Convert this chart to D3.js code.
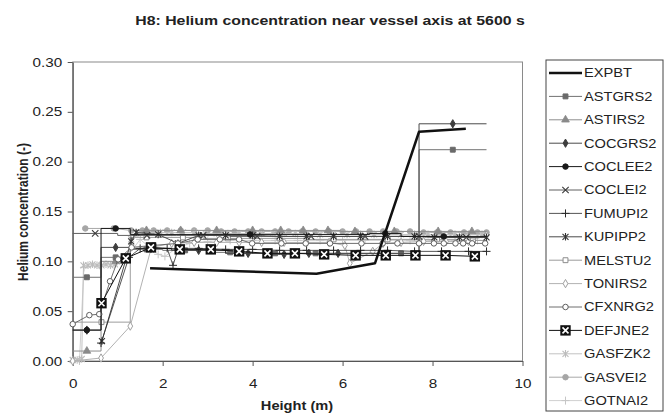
<!DOCTYPE html>
<html>
<head>
<meta charset="utf-8">
<script src="https://cdn.jsdelivr.net/npm/d3@7"></script>
<style>
  body { margin: 0; background: #fff; }
  svg { display: block; }
  text { font-family: "Liberation Sans", Arial, sans-serif; fill: #222; }
</style>
</head>
<body>
<svg id="chart" width="665" height="414"></svg>
<script>
// ---- data: helium concentration (-) against height (m) ----
const xTicks = [0, 2, 4, 6, 8, 10];
const yTicks = [0.00, 0.05, 0.10, 0.15, 0.20, 0.25, 0.30];

const seriesNames = ["EXPBT", "ASTGRS2", "ASTIRS2", "COCGRS2", "COCLEE2", "COCLEI2", "FUMUPI2",
  "KUPIPP2", "MELSTU2", "TONIRS2", "CFXNRG2", "DEFJNE2", "GASFZK2", "GASVEI2", "GOTNAI2"];

// measured profile
const EXPBT = [[1.72, 0.093], [3.70, 0.090], [5.42, 0.0875], [6.72, 0.098], [7.70, 0.230], [8.74, 0.233]];

// lumped-parameter codes: one value per zone, zone edges in m
const ASTGRS2_edges = [0, 0.63, 1.28, 2.0, 3.0, 4.0, 5.0, 5.8, 6.9, 7.7, 9.2];
const ASTGRS2_values = [0.084, 0.104, 0.112, 0.111, 0.109, 0.108, 0.108, 0.108, 0.108, 0.212];

const ASTIRS2_edges = [0, 0.63, 1.28, 2.0, 2.8, 3.6, 4.4, 4.85, 5.4, 5.95, 6.6, 7.7, 8.55, 9.2];
const ASTIRS2_values = [0.010, 0.100, 0.131, 0.131, 0.131, 0.131, 0.131, 0.131, 0.131, 0.130, 0.130, 0.130, 0.130];

const COCGRS2_edges = [0, 0.63, 1.28, 2.2, 3.4, 4.4, 5.0, 5.5, 6.3, 7.7, 9.2];
const COCGRS2_values = [0.031, 0.114, 0.113, 0.111, 0.108, 0.107, 0.108, 0.108, 0.108, 0.238];

const COCLEE2_edges = [0, 0.63, 1.28, 6.6, 7.3, 9.2];
const COCLEE2_values = [0.031, 0.133, 0.127, 0.128, 0.125];

const COCLEI2_edges = [0, 1.0, 2.3, 3.5, 4.7, 5.9, 7.1, 8.3, 9.2];
const COCLEI2_values = [0.128, 0.126, 0.126, 0.125, 0.125, 0.125, 0.125, 0.124];

const MELSTU2_edges = [0, 1.28, 2.0, 2.9, 4.0, 5.2, 6.4, 7.6, 8.6, 9.2];
const MELSTU2_values = [0.039, 0.124, 0.124, 0.123, 0.123, 0.122, 0.122, 0.122, 0.121];

// CFD / distributed codes: [height, concentration]
const FUMUPI2 = [[0.63, 0.018], [1.25, 0.104], [1.5, 0.113], [1.8, 0.113], [2.1, 0.113], [2.23, 0.096],
  [2.35, 0.113], [2.8, 0.113], [3.4, 0.112], [4.0, 0.112], [4.6, 0.111], [5.2, 0.111], [5.8, 0.111],
  [6.4, 0.111], [7.0, 0.111], [7.6, 0.110], [8.2, 0.110], [8.8, 0.110], [9.2, 0.110]];

const KUPIPP2 = [[0.65, 0.020], [1.3, 0.120], [1.41, 0.129], [1.9, 0.127], [2.34, 0.118], [2.8, 0.126],
  [3.4, 0.126], [4.0, 0.126], [4.6, 0.125], [5.2, 0.125], [5.8, 0.125], [6.4, 0.125], [7.0, 0.125],
  [7.6, 0.125], [8.04, 0.124], [8.6, 0.124], [9.2, 0.124]];

const TONIRS2 = [[0, 0.000], [0.63, 0.003], [1.28, 0.035], [1.75, 0.114], [2.2, 0.118], [2.7, 0.119],
  [3.2, 0.119], [3.7, 0.119], [4.2, 0.119], [4.7, 0.119], [5.2, 0.119], [5.7, 0.119], [6.05, 0.116],
  [6.16, 0.098], [6.67, 0.110], [6.9, 0.118], [7.3, 0.119], [7.8, 0.120], [8.3, 0.120], [8.8, 0.120],
  [9.2, 0.126]];

const CFXNRG2 = [[0, 0.037], [0.37, 0.046], [0.59, 0.047], [0.83, 0.080], [1.01, 0.102], [1.31, 0.114],
  [1.8, 0.116], [2.34, 0.118], [2.78, 0.122], [3.27, 0.122], [3.70, 0.122], [3.99, 0.118], [4.64, 0.118],
  [5.18, 0.118], [5.72, 0.118], [6.42, 0.118], [6.89, 0.118], [7.22, 0.118], [7.70, 0.118], [8.03, 0.118],
  [8.25, 0.118], [8.51, 0.118], [8.68, 0.118], [8.88, 0.118], [9.17, 0.118]];

const DEFJNE2 = [[0.64, 0.058], [1.18, 0.103], [1.74, 0.114], [2.38, 0.112], [3.07, 0.112], [3.70, 0.110],
  [4.33, 0.108], [4.94, 0.108], [5.59, 0.107], [6.29, 0.106], [6.96, 0.106], [7.62, 0.106], [8.29, 0.106],
  [8.94, 0.105]];

const GASFZK2 = [[0, 0.001], [0.1, 0.001], [0.2, 0.002], [0.24, 0.096], [0.34, 0.096], [0.44, 0.097],
  [0.54, 0.096], [0.64, 0.096], [0.74, 0.097], [0.84, 0.096], [0.94, 0.097], [1.1, 0.100], [1.2, 0.104],
  [1.3, 0.122], [1.45, 0.128], [1.7, 0.129], [1.95, 0.129], [2.2, 0.129], [2.45, 0.129], [2.7, 0.129],
  [2.95, 0.128], [3.2, 0.128], [3.45, 0.128], [3.7, 0.128], [3.95, 0.128], [4.2, 0.128], [4.45, 0.128],
  [4.7, 0.128], [4.95, 0.128], [5.2, 0.127], [5.5, 0.127], [5.8, 0.127], [6.1, 0.127], [6.4, 0.127],
  [6.7, 0.127], [7.0, 0.127], [7.3, 0.127], [7.6, 0.127], [7.9, 0.127], [8.2, 0.127], [8.5, 0.127],
  [8.8, 0.127], [9.1, 0.127]];

const GASVEI2 = [[0.28, 0.133], [0.91, 0.133], [1.3, 0.131], [1.55, 0.131], [1.8, 0.131], [2.1, 0.131],
  [2.4, 0.131], [2.7, 0.131], [3.0, 0.131], [3.3, 0.130], [3.6, 0.130], [3.9, 0.130], [4.2, 0.130],
  [4.5, 0.130], [4.8, 0.130], [5.1, 0.130], [5.4, 0.130], [5.7, 0.130], [6.0, 0.130], [6.3, 0.130],
  [6.6, 0.130], [6.9, 0.130], [7.2, 0.130], [7.5, 0.130], [7.8, 0.129], [8.1, 0.129], [8.4, 0.129],
  [8.7, 0.129], [9.0, 0.129], [9.2, 0.129]];

const GOTNAI2 = [[0, 0.000], [0.15, 0.000], [0.25, 0.094], [0.6, 0.096], [1.0, 0.100], [1.2, 0.104],
  [1.5, 0.122], [1.9, 0.107], [2.05, 0.105], [2.3, 0.113], [2.6, 0.118], [3.0, 0.120], [3.5, 0.121],
  [4.0, 0.121], [4.5, 0.121], [5.0, 0.121], [5.5, 0.121], [6.0, 0.121], [6.5, 0.121], [7.0, 0.121],
  [7.5, 0.121], [8.0, 0.121], [8.5, 0.121], [9.0, 0.121]];

// ---- build series table ----
function stepSeries(edges, values) {
  const path = [];
  values.forEach((v, i) => { path.push([edges[i], v]); path.push([edges[i + 1], v]); });
  const marks = values.map((v, i) => [(edges[i] + edges[i + 1]) / 2, v]);
  return { path, marks };
}
function plainSeries(pts) { return { path: pts, marks: pts }; }

const styles = {
  EXPBT:   { line: "#111", width: 2.5, marker: null },
  ASTGRS2: { line: "#727272", width: 1, marker: "square", fill: "#6a6a6a", stroke: "#6a6a6a" },
  ASTIRS2: { line: "#8e8e8e", width: 1, marker: "triangle", fill: "#8a8a8a", stroke: "#8a8a8a" },
  COCGRS2: { line: "#4a4a4a", width: 1, marker: "diamond", fill: "#3e3e3e", stroke: "#3e3e3e" },
  COCLEE2: { line: "#1a1a1a", width: 1, marker: "circle", fill: "#1a1a1a", stroke: "#1a1a1a" },
  COCLEI2: { line: "#606060", width: 1, marker: "ex", fill: "none", stroke: "#3a3a3a" },
  FUMUPI2: { line: "#2a2a2a", width: 0.8, marker: "plus", fill: "none", stroke: "#2a2a2a" },
  KUPIPP2: { line: "#4a4a4a", width: 1, marker: "star", fill: "none", stroke: "#333" },
  MELSTU2: { line: "#9c9c9c", width: 1, marker: "square", fill: "#fff", stroke: "#8c8c8c" },
  TONIRS2: { line: "#b2b2b2", width: 1, marker: "diamond", fill: "#fff", stroke: "#a0a0a0" },
  CFXNRG2: { line: "#5e5e5e", width: 0.9, marker: "circle", fill: "#fff", stroke: "#5e5e5e" },
  DEFJNE2: { line: "#111", width: 1, marker: "boxx", fill: "#111", stroke: "#111" },
  GASFZK2: { line: "#c2c2c2", width: 1, marker: "star", fill: "none", stroke: "#bcbcbc" },
  GASVEI2: { line: "#a8a8a8", width: 1, marker: "circle", fill: "#a6a6a6", stroke: "#a6a6a6" },
  GOTNAI2: { line: "#d0d0d0", width: 1, marker: "plus", fill: "none", stroke: "#c6c6c6" }
};

const seriesData = {
  EXPBT: { path: EXPBT, marks: [] },
  ASTGRS2: stepSeries(ASTGRS2_edges, ASTGRS2_values),
  ASTIRS2: stepSeries(ASTIRS2_edges, ASTIRS2_values),
  COCGRS2: stepSeries(COCGRS2_edges, COCGRS2_values),
  COCLEE2: stepSeries(COCLEE2_edges, COCLEE2_values),
  COCLEI2: stepSeries(COCLEI2_edges, COCLEI2_values),
  FUMUPI2: plainSeries(FUMUPI2),
  KUPIPP2: plainSeries(KUPIPP2),
  MELSTU2: stepSeries(MELSTU2_edges, MELSTU2_values),
  TONIRS2: plainSeries(TONIRS2),
  CFXNRG2: plainSeries(CFXNRG2),
  DEFJNE2: plainSeries(DEFJNE2),
  GASFZK2: plainSeries(GASFZK2),
  GASVEI2: plainSeries(GASVEI2),
  GOTNAI2: plainSeries(GOTNAI2)
};

// ---- layout ----
const svg = d3.select("#chart");
const SX = 1.22; // horizontal text widening
const x = d3.scaleLinear().domain([0, 10]).range([72.7, 522.5]);
const y = d3.scaleLinear().domain([0, 0.30]).range([361, 62]);

// title
svg.append("text")
  .attr("transform", `translate(330,25) scale(${SX},1)`)
  .attr("text-anchor", "middle")
  .style("font-weight", "bold").style("font-size", "13px")
  .text("H8: Helium concentration near vessel axis at 5600 s");

// plot frame
svg.append("rect")
  .attr("x", x(0)).attr("y", y(0.30))
  .attr("width", x(10) - x(0)).attr("height", y(0) - y(0.30))
  .attr("fill", "#fff").attr("stroke", "#8a8a8a").attr("stroke-width", 1);

// axes
const gx = svg.append("g").attr("transform", `translate(0,${y(0)})`)
  .call(d3.axisBottom(x).tickValues(xTicks).tickSize(5).tickSizeOuter(0).tickPadding(13)
    .tickFormat(d3.format("d")));
const gy = svg.append("g").attr("transform", `translate(${x(0)},0)`)
  .call(d3.axisLeft(y).tickValues(yTicks).tickSize(5).tickSizeOuter(0)
    .tickFormat(d3.format(".2f")));
[gx, gy].forEach(g => {
  g.select(".domain").attr("stroke", "#555").attr("stroke-width", 1.2);
  g.selectAll(".tick line").attr("stroke", "#555");
  g.selectAll(".tick text").style("font-size", "12.5px").attr("fill", "#333")
    .style("font-family", '"Liberation Sans", Arial, sans-serif');
});
gx.selectAll(".tick text").attr("transform", `scale(${SX},1)`);
gy.selectAll(".tick text").attr("x", -10.5 / SX).attr("transform", `scale(${SX},1)`);

// axis titles
svg.append("text")
  .attr("transform", `translate(297,410) scale(${SX},1)`)
  .attr("text-anchor", "middle")
  .style("font-weight", "bold").style("font-size", "12px")
  .text("Height (m)");
svg.append("text")
  .attr("transform", `translate(28,212) scale(${SX},1) rotate(-90)`)
  .attr("text-anchor", "middle")
  .style("font-weight", "bold").style("font-size", "12px")
  .text("Helium concentration (-)");

// ---- marker drawing ----
function drawMarker(g, kind, st, cx, cy) {
  const t = `translate(${cx},${cy})`;
  switch (kind) {
    case "square":
      g.append("path").attr("transform", t).attr("d", d3.symbol(d3.symbolSquare, 24)())
        .attr("fill", st.fill).attr("stroke", st.stroke).attr("stroke-width", 1);
      break;
    case "triangle":
      g.append("path").attr("transform", t).attr("d", d3.symbol(d3.symbolTriangle, 26)())
        .attr("fill", st.fill).attr("stroke", st.stroke).attr("stroke-width", 0.8);
      break;
    case "diamond":
      g.append("path").attr("transform", t).attr("d", d3.symbol(d3.symbolDiamond, 20)())
        .attr("fill", st.fill).attr("stroke", st.stroke).attr("stroke-width", 1);
      break;
    case "circle":
      g.append("path").attr("transform", t).attr("d", d3.symbol(d3.symbolCircle, 24)())
        .attr("fill", st.fill).attr("stroke", st.stroke).attr("stroke-width", 1);
      break;
    case "ex":
      g.append("path").attr("transform", t).attr("d", "M-3.2,-3.2L3.2,3.2M-3.2,3.2L3.2,-3.2")
        .attr("fill", "none").attr("stroke", st.stroke).attr("stroke-width", 1.1);
      break;
    case "plus":
      g.append("path").attr("transform", t).attr("d", "M-4,0L4,0M0,-4L0,4")
        .attr("fill", "none").attr("stroke", st.stroke).attr("stroke-width", 1);
      break;
    case "star":
      g.append("path").attr("transform", t).attr("d", "M-3,-3L3,3M-3,3L3,-3M0,-3.8L0,3.8")
        .attr("fill", "none").attr("stroke", st.stroke).attr("stroke-width", 1.1);
      break;
    case "boxx":
      g.append("rect").attr("x", cx - 5.2).attr("y", cy - 5.2).attr("width", 10.4).attr("height", 10.4)
        .attr("fill", st.fill);
      g.append("path").attr("transform", t).attr("d", "M-3,-3L3,3M-3,3L3,-3")
        .attr("fill", "none").attr("stroke", "#fff").attr("stroke-width", 1.6);
      break;
  }
}

// ---- series ----
const line = d3.line().x(d => x(d[0])).y(d => y(d[1]));
const drawOrder = ["GOTNAI2", "GASVEI2", "GASFZK2", "MELSTU2", "TONIRS2", "ASTIRS2", "ASTGRS2",
  "COCGRS2", "COCLEI2", "KUPIPP2", "FUMUPI2", "CFXNRG2", "COCLEE2", "DEFJNE2", "EXPBT"];
const plot = svg.append("g");
drawOrder.forEach(name => {
  const st = styles[name], sd = seriesData[name];
  const g = plot.append("g").attr("class", "series-" + name);
  g.append("path").attr("d", line(sd.path))
    .attr("fill", "none").attr("stroke", st.line).attr("stroke-width", st.width)
    .attr("stroke-linejoin", "round");
  if (st.marker) sd.marks.forEach(p => drawMarker(g, st.marker, st, x(p[0]), y(p[1])));
});

// ---- legend ----
const leg = svg.append("g");
leg.append("rect").attr("x", 546).attr("y", 60).attr("width", 117).attr("height", 351)
  .attr("fill", "#fff").attr("stroke", "#444").attr("stroke-width", 1);
seriesNames.forEach((name, i) => {
  const st = styles[name];
  const ly = 73 + i * 23.4;
  leg.append("line").attr("x1", 549).attr("x2", 582).attr("y1", ly).attr("y2", ly)
    .attr("stroke", st.line).attr("stroke-width", st.width);
  if (st.marker) drawMarker(leg, st.marker, st, 565.5, ly);
  leg.append("text")
    .attr("transform", `translate(584,${ly + 4.3}) scale(${SX},1)`)
    .style("font-size", "12px").attr("fill", "#222")
    .text(name);
});
</script>
</body>
</html>
